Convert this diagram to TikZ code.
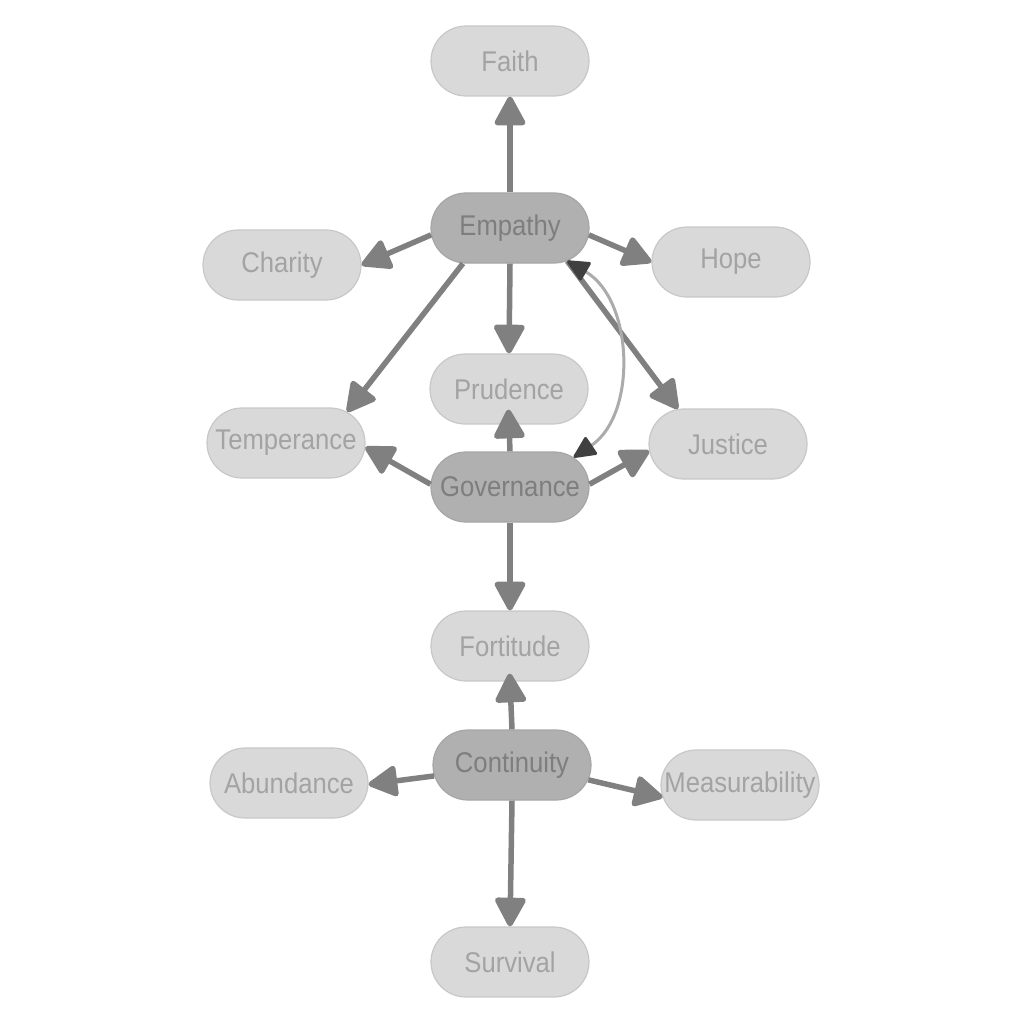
\documentclass[tikz,border=0pt]{standalone}
\usepackage{fontspec}
\setmainfont[FakeStretch=0.9]{Liberation Sans}
\usetikzlibrary{shapes.misc,arrows.meta}
\definecolor{lightfill}{HTML}{D9D9D9}
\definecolor{lightline}{HTML}{C8C8C8}
\definecolor{lighttext}{HTML}{A3A3A3}
\definecolor{darkfill}{HTML}{B0B0B0}
\definecolor{darkline}{HTML}{A6A6A6}
\definecolor{darktext}{HTML}{7E7E7E}
\definecolor{edgec}{HTML}{808080}
\definecolor{curvec}{HTML}{ABABAB}
\definecolor{curvetip}{HTML}{404040}
\begin{document}
\begin{tikzpicture}[x=1pt,y=-1pt,
  pill/.style={rounded rectangle, minimum width=158pt, minimum height=70pt,
    inner sep=0pt, fill=lightfill, draw=lightline, line width=1.2pt,
    text=lighttext, font=\fontsize{28.5}{30}\selectfont},
  hub/.style={pill, fill=darkfill, draw=darkline, text=darktext},
  edge/.style={draw=edgec, line width=5.5pt,
    -{Triangle[length=32pt,width=33pt,round]}},
  backcurve/.style={draw=curvec, line width=3pt,
    {Triangle[length=24pt,width=22pt,round,color=curvetip]}-{Triangle[length=24pt,width=22pt,round,color=curvetip]}}
  ]
\useasboundingbox (0,0) rectangle (1024,1024);
\node[pill] (faith) at (510,61) {Faith};
\node[hub]  (emp)   at (510,228) {Empathy};
\node[pill] (cha)   at (282,265) {Charity};
\node[pill] (hope)  at (731,262) {Hope};
\node[pill] (pru)   at (509,389) {Prudence};
\node[pill] (tem)   at (286,443) {Temperance};
\node[pill] (jus)   at (728,444) {Justice};
\node[hub]  (gov)   at (510,487) {Governance};
\node[pill] (fort)  at (510,646) {Fortitude};
\node[pill] (abu)   at (289,783) {Abundance};
\node[hub]  (cont)  at (512,765) {Continuity};
\node[pill] (meas)  at (740,785) {Measurability};
\node[pill] (surv)  at (510,962) {Survival};

\draw[edge] (emp.north) -- (faith.south);
\draw[edge] (emp.185) -- (cha.east);
\draw[edge] (emp.-5) -- (hope.west);
\draw[edge] (emp.south) -- (pru.north);
\draw[edge] (emp.217) -- (tem.27);
\draw[edge] (emp.-30) -- (jus.145);
\draw[edge, shorten >=-15pt] (gov.north) -- (pru.south);
\draw[edge] (gov.178) -- (tem.-3);
\draw[edge] (gov.2) -- (jus.185);
\draw[edge] (gov.south) -- (fort.north);
\draw[edge, shorten >=-8pt] (cont.north) -- (fort.south);
\draw[edge] (cont.188) -- (abu.-1);
\draw[edge] (cont.-11) -- (meas.189);
\draw[edge] (cont.south) -- (surv.north);
\draw[backcurve] (emp.-30) to[bend left=58] (gov.25);
\end{tikzpicture}
\end{document}
